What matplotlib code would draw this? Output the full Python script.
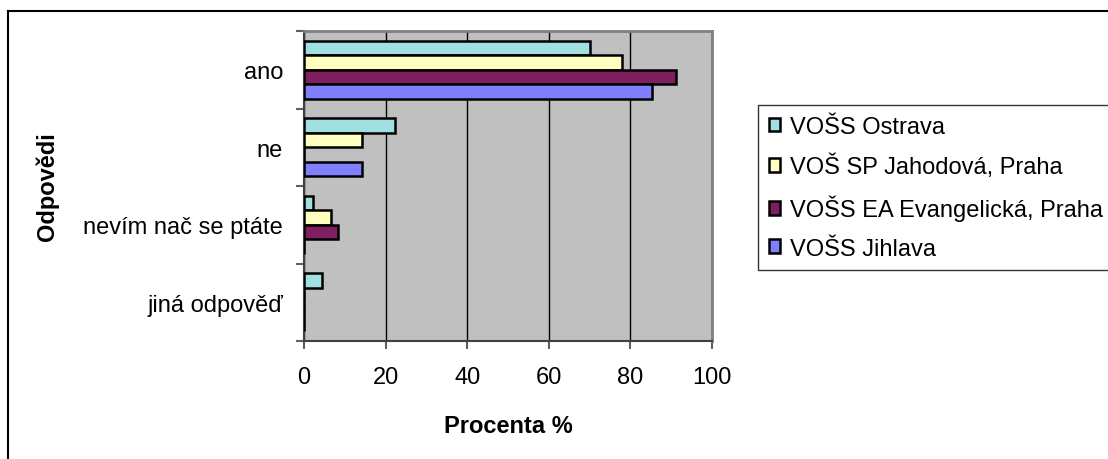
import matplotlib.pyplot as plt
import matplotlib.patches as mpatches
from matplotlib.lines import Line2D
import numpy as np

plt.rcParams['font.family'] = ['Liberation Sans', 'DejaVu Sans']

# data
categories = ['ano', 'ne', 'nevím nač se ptáte', 'jiná odpověď']
schools = ['VOŠS Ostrava', 'VOŠ SP Jahodová, Praha',
           'VOŠS EA Evangelická, Praha', 'VOŠS Jihlava']
ostrava = [70.2, 22.4, 2.3, 4.4]
jahodova = [78.0, 14.1, 6.7, 0]
evangelicka = [91.2, 0, 8.3, 0]
jihlava = [85.4, 14.1, 0, 0]
series = [ostrava, jahodova, evangelicka, jihlava]
colors = ['#A0E0E0', '#FFFFC0', '#801F60', '#8080FF']
xticks = [0, 20, 40, 60, 80, 100]

fs = 17

fig = plt.figure(figsize=(11.08, 4.6), dpi=100)
ax = fig.add_axes([304 / 1108, 1 - 342 / 460, 408 / 1108, 310 / 460])
ax.set_facecolor('#C0C0C0')

# outer chart border (runs off the right and bottom edge)
fig.add_artist(Line2D([8 / 1108, 1.0], [1 - 12 / 460] * 2,
                      transform=fig.transFigure, color='black', lw=1.5))
fig.add_artist(Line2D([8 / 1108] * 2, [0, 1 - 12 / 460],
                      transform=fig.transFigure, color='black', lw=1.5))

y = np.arange(len(categories))
h = 0.186
for j, vals in enumerate(series):
    ax.barh(y + (j - 1.5) * h, vals, height=h, color=colors[j],
            edgecolor='black', linewidth=1.8, zorder=3)

ax.set_xlim(0, 100)
ax.set_ylim(len(categories) - 0.5, -0.5)
ax.set_xticks(xticks)
ax.set_xticklabels([str(t) for t in xticks], fontsize=fs)
ax.xaxis.grid(True, color='black', linewidth=1, zorder=1)
ax.set_axisbelow(True)

ax.set_yticks(y)
ax.set_yticklabels(categories, fontsize=fs)
ax.tick_params(axis='y', which='major', length=0, pad=15)
ax.set_yticks(np.arange(-0.5, len(categories)), minor=True)
ax.tick_params(axis='y', which='minor', length=6, color='#606060', width=1.5)
ax.tick_params(axis='x', length=6, color='#606060', width=1.5, pad=12)

for side in ['top', 'right']:
    ax.spines[side].set_color('#808080')
    ax.spines[side].set_linewidth(2)
for side in ['left', 'bottom']:
    ax.spines[side].set_color('#404040')
    ax.spines[side].set_linewidth(1.5)

ax.set_xlabel('Procenta %', fontsize=fs, fontweight='bold')
ax.xaxis.set_label_coords(0.5, -0.235)
ax.set_ylabel('Odpovědi', fontsize=fs, fontweight='bold')
ax.yaxis.set_label_coords(-0.60, 0.5)

handles = [mpatches.Patch(facecolor=c, edgecolor='black', linewidth=1.8)
           for c in colors]
leg = fig.legend(handles, schools, loc='upper left',
                 bbox_to_anchor=(758 / 1108, 1 - 106 / 460),
                 fontsize=fs, frameon=True, fancybox=False,
                 edgecolor='black', handlelength=0.5, handleheight=0.5,
                 handletextpad=0.4, labelspacing=0.69, borderpad=0.45,
                 borderaxespad=0)
leg.get_frame().set_linewidth(1)

fig.savefig('out.png', dpi=100)
